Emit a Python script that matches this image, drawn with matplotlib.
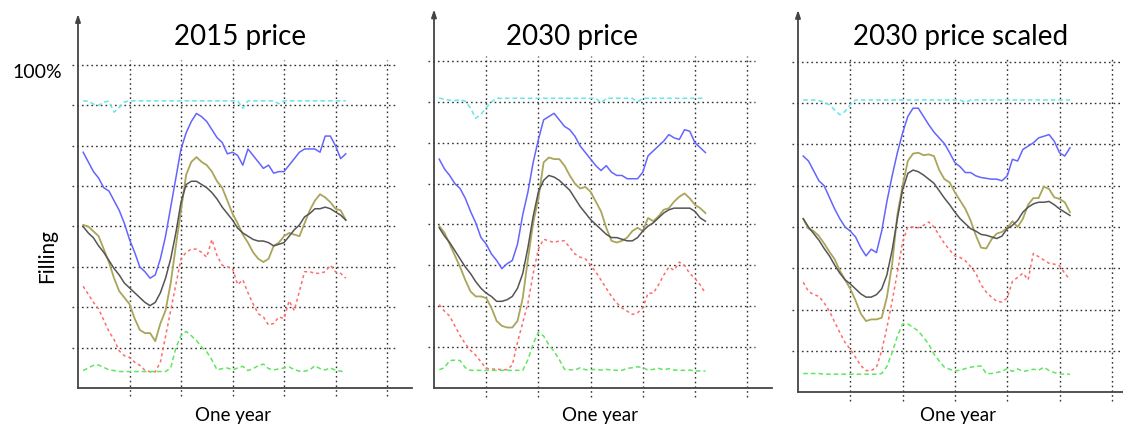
import matplotlib.pyplot as plt

plt.rcParams['font.family'] = ['Lato', 'DejaVu Sans']

# one year of weekly values, filling in %
weeks = list(range(1, 53))

blue_2015 = [73, 70, 67, 65, 62, 61, 58, 55, 51, 46, 42, 37.5, 36, 34, 35, 40, 47, 56, 65, 74,
             79, 82.5, 85, 84, 82.5, 80, 77.5, 76, 72.5, 73, 72, 69, 74, 72, 70, 68, 69, 66.5, 67, 67,
             69, 71, 73, 74, 74, 74, 73, 78, 78, 75, 71, 72.5]
olive_2015 = [50.5, 50, 48.5, 47, 43, 39, 34, 30, 28, 26, 21.5, 18, 17, 17, 14.5, 20, 24, 32.5, 44, 55,
              66, 70, 71.5, 70, 69, 67, 64, 62, 58, 54, 51, 47.5, 45, 42, 40, 39, 40, 44, 45, 47,
              48, 47.5, 47, 51, 55, 58, 60, 59, 57.5, 55.5, 55, 52]
black_2015 = [50, 48, 46.5, 44, 42, 39.5, 37, 35, 32.5, 31, 29.5, 28, 26.5, 25.5, 26.5, 29.5, 34, 40, 48, 57.5,
              63, 64, 64, 63, 62, 60.5, 58.5, 56, 54, 52, 49.5, 48, 47, 46, 45.5, 45.5, 45, 44, 44.5, 45,
              47, 49, 50.5, 53, 54, 55.5, 55.5, 56, 55.5, 54.5, 53.5, 52]
red_2015 = [31.5, 29, 26.5, 24.5, 21, 17.5, 15, 11.5, 10, 9.5, 8, 7, 5.5, 5, 5, 8, 16, 24, 32, 40,
            42, 43, 43, 42, 40.5, 46, 41, 38, 37.5, 37, 32, 33.5, 29.5, 26, 23, 22, 19.5, 20, 22, 21.5,
            27, 24, 30, 36, 36, 35.5, 35.5, 36, 38, 36, 35.5, 34]
green_2015 = [5.4, 6.2, 7, 7.1, 6.4, 5.6, 5.4, 5.1, 5.1, 5.1, 5.1, 5.1, 5.1, 5.1, 5.1, 5.1, 5.1, 6.2, 12.4, 16.2,
              17.5, 16.2, 14.7, 12.7, 11.2, 8.7, 5.6, 6, 6.2, 5.6, 6.2, 6.7, 5.4, 6, 6.9, 7.4, 6, 5.6, 5.9, 6.2,
              6.5, 5.7, 5.2, 5.2, 5.6, 6.9, 6, 5.6, 6.2, 5.5, 5.2, 5.1]
cyan_2015 = [88.9, 88.8, 87.9, 87.5, 88.5, 88.8, 85.4, 86.9, 88.5, 88.9, 88.9, 88.9, 88.9, 88.9, 88.9, 88.9,
             88.9, 88.9, 88.9, 88.9, 88.9, 88.9, 88.9, 88.9, 88.9, 88.9, 88.9, 88.9, 88.9, 88.9, 88.9, 86.6,
             88.9, 88.9, 88.9, 88.9, 88.9, 88.9, 88, 88.9, 88.9, 88.9, 88.9, 88.9, 88.9, 88.9, 88.9, 88.9,
             88.9, 88.9, 88.9, 88.9]

blue_2030 = [70, 67, 65, 62.5, 61, 58, 54, 50.5, 46, 44, 41, 39, 36.5, 38, 39, 44, 53, 60, 69, 76,
             82, 83, 84, 82, 80, 79, 77, 74, 72, 70, 68, 66.5, 68, 66, 65, 65, 64, 64, 64, 66,
             71, 72.5, 74, 75.5, 77.5, 76.5, 76, 79, 78.5, 75, 73.5, 72]
olive_2030 = [49.5, 47.5, 44, 40.5, 37, 33, 29.5, 28, 28, 27.5, 24.5, 20.5, 19, 18.5, 18.5, 20.5, 27.5, 39.5, 50.5, 58,
              69, 70.5, 70, 70, 68, 65, 62.5, 61, 61.5, 60, 57, 54, 49, 45, 44.5, 45, 46, 48, 49, 48,
              52, 51, 52.5, 54.5, 55, 57, 58.5, 59.5, 58, 56, 55, 53.5]
black_2030 = [49, 46.5, 44.5, 42, 39.5, 37, 35, 32.5, 30.5, 29, 28, 26.5, 26.5, 27, 28, 30.5, 35, 43, 52.5, 60,
              63.5, 65, 64.5, 63.5, 62, 60.5, 58, 55.5, 53.5, 51.5, 50, 48.5, 47, 46, 46, 45.5, 45, 45, 46, 48,
              49.5, 50.5, 52, 53.5, 54.5, 55, 55, 55, 55, 54, 52, 51]
red_2030 = [25.5, 23.5, 22, 19, 16, 13.5, 11.5, 10, 8, 6, 5.8, 5.8, 5.6, 5.6, 7, 14, 20, 26, 35, 42.5,
            45.5, 45, 44.5, 45, 45, 43, 41, 40, 39.5, 37.5, 35.5, 33, 30.5, 28, 26, 24.5, 23.5, 22.5, 23, 24.5,
            29, 29, 31.5, 34.5, 37, 36, 38.5, 37.5, 35, 33.5, 31.5, 29]
green_2030 = [5.6, 6.2, 8.4, 8.5, 8.4, 6.2, 5.4, 5.4, 5.4, 5.4, 5.4, 5.4, 5.4, 5.4, 5.4, 5.4, 5.4, 8.7, 13.5, 17.1,
              15.9, 13.2, 11.2, 8.7, 5.7, 5.6, 5.5, 6.2, 5.6, 5.6, 5.7, 5.5, 5.7, 5.5, 5.4, 5.4, 6, 6.2, 6.5, 6.2,
              5.5, 5.7, 6, 5.6, 5.9, 5.5, 5.4, 5.4, 5.5, 5.2, 5.2, 5.2]
cyan_2030 = [88.6, 88.4, 88, 87.9, 88.2, 87.7, 85.6, 82.5, 83.7, 85.7, 87.5, 88.6, 88.6, 88.6, 88.6, 88.6,
             88.6, 88.6, 88.6, 88.6, 88.6, 88.6, 88.6, 88.6, 88.6, 88.6, 88.6, 88.6, 88.6, 88.6, 88.6, 87.2,
             88.6, 88.6, 88.6, 88.6, 88.6, 88.6, 87.5, 88.6, 88.6, 88.6, 88.6, 88.6, 88.6, 88.6, 88.6, 88.6,
             88.6, 88.6, 88.6, 88.6]

blue_scaled = [71.5, 70, 67, 64, 62.5, 59, 55.5, 52.5, 50, 48.75, 47, 43.75, 41.25, 43.25, 42.25, 48.75, 57.75, 65.5, 72.5, 78.5,
               83.5, 86, 86, 83.5, 81, 78.75, 77, 75.25, 72.5, 69.5, 68.25, 66.5, 66.5, 65.5, 65, 64.75, 64.5, 64.5, 64, 65.5,
               70.5, 70, 73.5, 74.5, 75.5, 77, 77.5, 78, 76, 72.5, 71.5, 74]
olive_scaled = [52.5, 49.5, 48.75, 47.25, 45, 42.5, 40.25, 36.75, 34, 31.25, 27.75, 23.75, 21.5, 22, 22, 22.5, 28.75, 38.75, 53.75, 62.5,
                70, 72.25, 72.5, 71.75, 72, 71.5, 67.25, 64.5, 63.5, 60.5, 58, 55.5, 52, 47.5, 43.75, 43.5, 46.25, 48, 48.5, 49.75,
                51.75, 50, 52.5, 56.75, 58.75, 58.75, 62.25, 61.5, 59, 58.5, 57.5, 54.5]
black_scaled = [52.5, 50, 48, 46, 43.5, 41.25, 38.5, 36, 34, 32.75, 31.25, 29.75, 28.75, 28.75, 29.5, 31.25, 35.5, 43, 52.5, 61.25,
                66.25, 67.25, 66.75, 65.75, 64.5, 63.25, 61, 58.75, 56.75, 54.5, 52.5, 51, 49.5, 48.75, 47.75, 47.5, 47, 46.5, 47.25, 49.5,
                50.5, 52, 54.5, 56, 57, 57.5, 57.5, 57.75, 56.75, 55.5, 54.5, 53.5]
red_scaled = [33.25, 30.5, 29.5, 29, 27, 24.5, 21.25, 18, 15, 13, 10.5, 8, 6.5, 6.5, 7.5, 12.5, 19.5, 27.5, 36.25, 45.5,
              50, 50, 49.75, 50.5, 51.5, 50, 47.5, 45, 43, 41.25, 40.75, 39.75, 38, 36, 32.5, 30.25, 28.75, 27.5, 27.25, 28.5,
              33.5, 34.75, 36, 34, 42, 41, 40, 39, 38.75, 38.25, 36, 34]
green_scaled = [5.6, 5.6, 5.6, 5.6, 5.4, 5.4, 5.4, 5.4, 5.4, 5.4, 5.4, 5.4, 5.4, 5.4, 5.4, 5.6, 7.75, 11.9, 16.9, 20.6,
                20.6, 19.6, 18.5, 16.5, 14.5, 11.5, 9.4, 7.5, 6.9, 6.4, 6.6, 7.1, 7.5, 7.75, 7.9, 5.6, 5.6, 5.9, 6.25, 7.1,
                6.25, 7, 6.25, 6.5, 6.9, 6.6, 7.5, 6.5, 5.9, 5.5, 5.4, 5.4]
cyan_scaled = [88.5, 88.5, 88.5, 88.25, 87.9, 87, 85.5, 84, 85, 87.1, 88.5, 88.5, 88.5, 88.5, 88.5, 88.5,
               88.5, 88.5, 88.5, 88.5, 88.5, 88.5, 88.5, 88.5, 88.5, 88.5, 88.5, 88.5, 88.5, 88.5, 88.5, 87.75,
               88.5, 88.5, 88.5, 88.5, 88.5, 88.5, 88.5, 88.5, 88.5, 88.5, 88.5, 88.5, 88.5, 88.5, 88.5, 88.5,
               88.5, 88.5, 88.5, 88.5]

titles = ['2015 price', '2030 price', '2030 price scaled']
grid_weeks = [10, 20, 30, 40, 50, 60]
grid_levels = [12.5, 25, 37.5, 50, 62.5, 75, 87.5, 100]

W, H = 1123, 428
fig = plt.figure(figsize=(W / 100, H / 100), dpi=100)

# axis origin (px), px per week, px per %, title centre x, xlabel centre x
layout = [
    (78, 388, 5.15, 3.23, 240, 233),
    (434, 388, 5.22, 3.27, 572, 600),
    (798, 392, 5.23, 3.30, 961, 958),
]
series = [
    (blue_2015, olive_2015, black_2015, red_2015, green_2015, cyan_2015),
    (blue_2030, olive_2030, black_2030, red_2030, green_2030, cyan_2030),
    (blue_scaled, olive_scaled, black_scaled, red_scaled, green_scaled, cyan_scaled),
]
styles = [
    dict(color='#6464ff', lw=1.1, ls='-'),
    dict(color='#aaa55a', lw=1.3, ls='-'),
    dict(color='#555555', lw=1.1, ls='-'),
    dict(color='#ff6b6b', lw=1.1, ls=(0, (2, 2))),
    dict(color='#5fe65f', lw=1.1, ls=(0, (3, 2))),
    dict(color='#66e6e6', lw=1.1, ls=(0, (3, 2))),
]

xmin, xmax, ymin, ymax = -2, 66, -4, 120
grid_kw = dict(color='#333333', lw=1.0, ls=(0, (1.2, 2.2)), zorder=1)
axis_col = '#444444'

for (x0, y0, sx, sy, tx, lx), title, data in zip(layout, titles, series):
    left = x0 + xmin * sx
    ax = fig.add_axes([left / W, 1 - (y0 - ymin * sy) / H,
                       (xmax - xmin) * sx / W, (ymax - ymin) * sy / H])
    ax.set_xlim(xmin, xmax)
    ax.set_ylim(ymin, ymax)
    ax.set_axis_off()

    for v in grid_levels:
        ax.plot([-1.2, 61.5], [v, v], **grid_kw)
    for w in grid_weeks:
        ax.plot([w, w], [-2.6, 101.6], **grid_kw)

    ax.plot([0, 64.8], [0, 0], color=axis_col, lw=1.3, zorder=2)
    ax.annotate('', xy=(0, 115.8), xytext=(0, 0),
                arrowprops=dict(arrowstyle='-|>,head_length=0.45,head_width=0.15',
                                color=axis_col, lw=1.3, shrinkA=0, shrinkB=0))

    for vals, st in zip(data, styles):
        ax.plot(weeks, vals, zorder=3, **st)

    fig.text(tx / W, 1 - 37 / H, title, ha='center', va='center', fontsize=20)
    fig.text(lx / W, 1 - 415 / H, 'One year', ha='center', va='center', fontsize=13.5)

fig.text(37 / W, 1 - 72 / H, '100%', ha='center', va='center', fontsize=14)
fig.text(47 / W, 1 - 256 / H, 'Filling', ha='center', va='center', fontsize=15, rotation=90)

fig.savefig('out.png', dpi=100)
